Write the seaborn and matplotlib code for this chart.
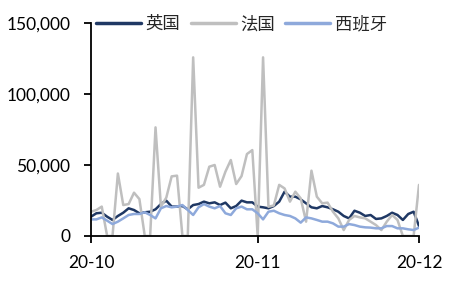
import matplotlib
matplotlib.use("Agg")
import matplotlib.pyplot as plt
import matplotlib.dates as mdates
import matplotlib.ticker as mticker
from matplotlib.lines import Line2D
import numpy as np
import pandas as pd
import seaborn as sns

start_date = "2020-10-01"
end_date = "2020-12-01"
series_names = ["英国", "法国", "西班牙"]
colors = ["#1F3864", "#BFBFBF", "#8EA9DB"]

uk = [13600, 16000, 16400, 13600, 11300, 14100, 16400, 19500, 18300, 16000,
      16700, 17100, 18800, 22500, 24900, 20700, 20700, 21100, 18800, 21800,
      22500, 24200, 23000, 23700, 21800, 23500, 19500, 21100, 24900, 23700,
      23700, 20700, 20200, 19500, 21100, 24200, 31200, 27700, 27700, 25800,
      23000, 20200, 19500, 21100, 20200, 18800, 17100, 14100, 12400, 17800,
      16400, 14100, 14800, 12000, 12400, 14100, 16400, 14800, 11300, 15500,
      17100, 7000]
france = [17100, 18300, 20700, 0, 0, 44000, 21800, 22500, 30500, 26000,
          0, 0, 76500, 20700, 27000, 42000, 42500, 0, 0, 125800,
          34000, 36000, 48800, 50000, 34700, 45300, 53500, 36600, 42200, 57700,
          60500, 0, 125800, 20600, 21500, 36000, 33500, 24200, 31200, 26500,
          10100, 46000, 27700, 23000, 23500, 17100, 12400, 4200, 11300, 14100,
          13100, 12400, 10100, 7700, 4200, 10100, 14800, 11300, 0, 0,
          0, 36000]
spain = [11700, 11700, 13100, 10800, 8400, 10100, 12400, 14800, 15500, 15500,
         16700, 14800, 12400, 19500, 21100, 20200, 20700, 21800, 18300, 14800,
         20200, 22500, 20700, 19500, 21100, 16000, 14800, 19500, 20700, 18800,
         18800, 16000, 11700, 17100, 17800, 16000, 14800, 14100, 12400, 9400,
         13100, 12400, 11300, 10100, 10100, 8900, 6600, 6600, 8400, 7700,
         6600, 6100, 5900, 5400, 5400, 7000, 7000, 5400, 5400, 4700,
         4200, 5900]
x_ticks = ["2020-10-01", "2020-11-01", "2020-12-01"]
y_ticks = [0, 50000, 100000, 150000]

dates = pd.date_range(start_date, end_date, freq="D")
df = pd.concat([
    pd.DataFrame({"date": dates, "value": vals, "country": name})
    for name, vals in zip(series_names, [uk, france, spain])
])

sns.set_theme(style="white")
plt.rcParams["font.family"] = ["Lato", "Noto Sans CJK SC", "DejaVu Sans"]

fig = plt.figure(figsize=(4.56, 2.89), dpi=100)
ax = fig.add_axes([91 / 456, 53 / 289, 328 / 456, 213 / 289])

sns.lineplot(data=df, x="date", y="value", hue="country",
             hue_order=series_names, palette=colors, linewidth=1.8, ax=ax,
             legend=False)

ax.set_xlim(pd.Timestamp(start_date), pd.Timestamp(end_date))
ax.set_ylim(0, 150000)
ax.set_xticks([pd.Timestamp(t) for t in x_ticks])
ax.xaxis.set_major_formatter(mdates.DateFormatter("%y-%m"))
ax.set_yticks(y_ticks)
ax.yaxis.set_major_formatter(mticker.FuncFormatter(lambda v, p: f"{int(v):,}"))
ax.set_xlabel("")
ax.set_ylabel("")

for s in ["top", "right"]:
    ax.spines[s].set_visible(False)
for s in ["left", "bottom"]:
    ax.spines[s].set_color("black")
    ax.spines[s].set_linewidth(1.3)
ax.tick_params(axis="both", which="major", direction="out", length=5,
               width=1.3, color="black", labelsize=12.5, labelcolor="black",
               left=True, bottom=True)
ax.tick_params(axis="x", pad=9)
ax.tick_params(axis="y", pad=10)

handles = [Line2D([], [], color=c, linewidth=2.5) for c in colors]
fig.legend(handles, series_names, loc="center left",
           bbox_to_anchor=(96 / 456, 1 - 24 / 289), ncol=3, frameon=False,
           fontsize=12.5, handlelength=2.6, handletextpad=0.25,
           columnspacing=0.6, borderpad=0, borderaxespad=0)

fig.savefig("out.png", dpi=100)
